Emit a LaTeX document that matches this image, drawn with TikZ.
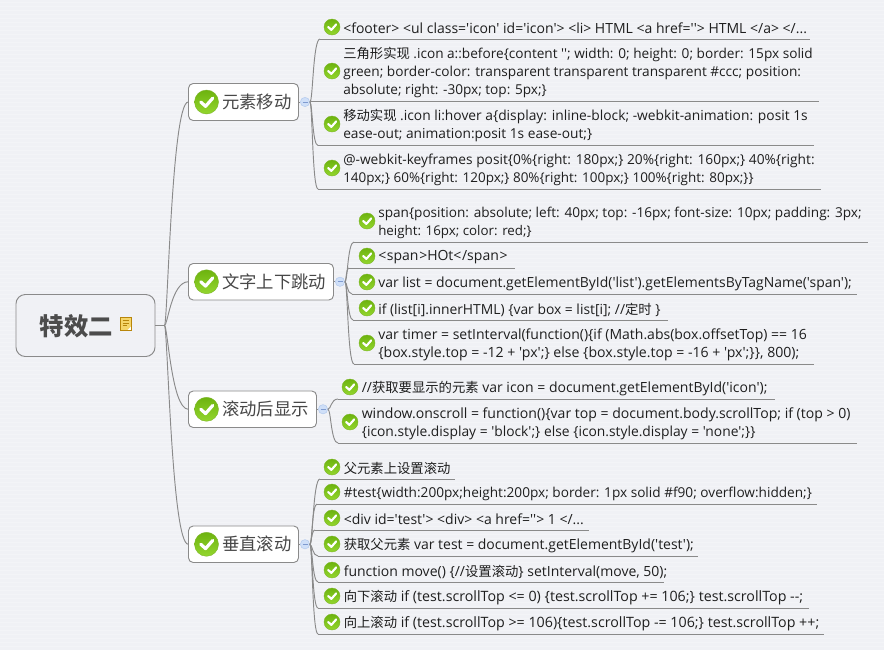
\documentclass[tikz,border=0pt]{standalone}
\usepackage{fontspec}
\usetikzlibrary{calc}
\newfontfamily\tf{Open Sans}
\newfontfamily\zhf{Noto Sans CJK SC}
\newcommand\zh[1]{{\fontsize{10pt}{13.5pt}\selectfont\zhf #1}}
\newcommand\lk{\kern0.5pt}
\newcommand\fs[1]{\fontsize{#1pt}{13.5pt}\selectfont}
\definecolor{bgc}{HTML}{F0F1F5}
\definecolor{linec}{HTML}{8A8A8A}
\definecolor{txt}{HTML}{1E1E1E}
\definecolor{hubfill}{HTML}{CFDFF8}
\definecolor{hubline}{HTML}{B5CBEE}
\definecolor{hubminus}{HTML}{7F9BD0}
\definecolor{tickdark}{HTML}{6DB30F}
\definecolor{ticklight}{HTML}{93D62E}
\definecolor{tickline}{HTML}{7DB52A}
\definecolor{notefill}{HTML}{F5D66A}
\definecolor{noteline}{HTML}{B8860B}
\tikzset{
  px/.style={x=0.75pt,y=-0.75pt},
  conn/.style={draw=linec,line width=0.7pt},
  ticon/.style={circle,inner sep=0pt,minimum size=#1*0.75pt,top color=tickdark,bottom color=ticklight,draw=tickline,line width=0.3pt,
    path picture={\draw[white,line width=#1*0.1pt,line cap=round,line join=round]
      ($(path picture bounding box.center)+(-#1*0.24,#1*0.0)$) -- ($(path picture bounding box.center)+(-#1*0.04,#1*0.18)$) -- ($(path picture bounding box.center)+(#1*0.26,-#1*0.16)$);}},
  leaftext/.style={anchor=west,inner sep=0pt,align=left,text=txt,yshift=-1.1pt,font=\fontsize{10.5pt}{13.5pt}\selectfont\tf},
  childbox/.style={draw=linec,fill=white,rounded corners=3.5pt,line width=0.7pt,inner sep=0pt},
  childtext/.style={anchor=west,inner sep=0pt,text=black!72,font=\fontsize{13pt}{15pt}\selectfont\zhf},
  rootbox/.style={draw=linec,fill=bgc,rounded corners=7pt,line width=0.7pt,inner sep=0pt},
  hub/.style={circle,inner sep=0pt,minimum size=7pt,fill=hubfill,draw=hubline,line width=0.4pt,
    path picture={\draw[hubminus,line width=0.5pt] ($(path picture bounding box.center)+(-2.5,0)$) -- ($(path picture bounding box.center)+(2.5,0)$);}},
}
% #1 name, #2 hub, #3 icon x, #4 icon y, #5 text x, #6 underline y, #7 start x, #8 end x, #9 text
\newcommand\leaf[9]{%
  \node[ticon=16] (#1i) at (#3,#4) {};
  \node[leaftext] (#1) at (#5,#4) {#9};
  \coordinate (#1s) at (#7,#6);
  \coordinate (#1e) at (#8,#6);
  \draw[conn] (#1s) -- (#1e);
  \draw[conn] (#2.east) .. controls ($(#2.east)!0.3!(#2.east-|#1s)$) and ($(#1s-|#2.east)!0.3!(#1s)$) .. (#1s);
}
% #1 name, #2 left, #3 right, #4 top, #5 bottom, #6 text, #7 hub x
\newcommand\child[7]{%
  \path[childbox] (#2,#4) rectangle (#3,#5);
  \node[inner sep=0pt,minimum width=(#3-#2)*0.75pt,minimum height=(#5-#4)*0.75pt] (#1) at ({(#2+#3)/2},{(#4+#5)/2}) {};
  \node[ticon=24] (#1i) at (#2+18,{(#4+#5)/2}) {};
  \node[childtext] (#1t) at (#2+33.5,{(#4+#5)/2}) {#6};
  \node[hub] (#1h) at (#7,{(#4+#5)/2}) {};
  \draw[conn] (#1.east) -- (#1h.west);
}
\begin{document}
\begin{tikzpicture}[px]
\useasboundingbox (0,0) rectangle (884,650);
\fill[bgc] (0,0) rectangle (884,650);
\foreach \yy in {2,6,...,650} \draw[white,opacity=0.25,line width=0.75pt] (0,\yy) -- (884,\yy);

% root
\path[rootbox] (16,294.5) rectangle (155,356.5);
\node[inner sep=0pt,minimum width=104.25pt,minimum height=46.5pt] (root) at (85.5,325.5) {};
\node[inner sep=0pt,text=black!70,font=\fontsize{18.3pt}{20pt}\selectfont\zhf\bfseries] (roott) at (76.5,326) {特效二};
\node[draw=noteline,fill=notefill,inner sep=0pt,minimum width=8pt,minimum height=10pt,line width=0.5pt,
  path picture={\draw[noteline,line width=0.4pt]
    ($(path picture bounding box.center)+(-3,-3.5)$) -- +(6,0) ($(path picture bounding box.center)+(-3,-1)$) -- +(6,0) ($(path picture bounding box.center)+(-3,1.5)$) -- +(4,0);
    \fill[white] ($(path picture bounding box.south east)+(-4,0)$) -- ($(path picture bounding box.south east)+(0,-4)$) -- (path picture bounding box.south east) -- cycle;}] (note) at (125.5,324) {};
\coordinate (rj) at (164.5,325.5);
\draw[conn] (root.east) -- (rj);

% children
\child{c1}{188.5}{298.5}{83.5}{120.5}{元素移动}{305}
\child{c2}{188.5}{333.5}{263.5}{300}{文字上下跳动}{340}
\child{c3}{188.5}{316.5}{391}{427.5}{滚动后显示}{323}
\child{c4}{188.5}{298.5}{526}{562.5}{垂直滚动}{305}
\foreach \cc in {c1,c2,c3,c4}
  \draw[conn] (rj) .. controls ($(rj)!0.13!(rj-|\cc.west)$) and ($(\cc.west-|rj)!0.3!(\cc.west)$) .. (\cc.west);

% group 1
\leaf{a1}{c1h}{332}{27}{343}{39}{320}{810}{<footer> <ul class='icon' id='icon'> <li> HTML <a href=''> HTML </a> </...}
\leaf{a2}{c1h}{332}{71}{343}{101}{311}{819}{\fs{10.22}\zh{三角形实现} .icon a::before\{content ''; width: 0; height: 0; border: 15px solid\\\fs{10.25}green; border-color: transparent transparent transparent \#ccc; position:\\\fs{10.2}absolute; right: -30px; top: 5px;\}}
\leaf{a3}{c1h}{332}{124}{343}{145.5}{318}{814}{\fs{10.35}\zh{移动实现} .icon li:hover a\{display: inline-block; -webkit-animation: posit 1s\\\fs{10.3}ease-out; animation:posit 1s ease-out;\}}
\leaf{a4}{c1h}{332}{168}{343}{189}{318}{821}{\fs{10.3}@-webkit-keyframes posit\{0\%\{right: 180px;\} 20\%\{right: 160px;\} 40\%\{right:\\\fs{10.1}140px;\} 60\%\{right: 120px;\} 80\%\{right: 100px;\} 100\%\{right: 80px;\}\}}

% group 2
\leaf{b1}{c2h}{367}{221}{378}{242}{354}{868}{\fs{10.2}span\{position: absolute; left: 40px; top: -16px; font-size: 10px; padding: 3px;\\\fs{10}height: 16px; color: red;\}}
\leaf{b2}{c2h}{367}{256}{378}{268}{349}{515}{<\lk span\lk>HOt<\lk/span\lk>}
\leaf{b3}{c2h}{367}{282}{378}{294}{352}{857}{\fs{10.45}var list = document.getElementById('list').getElementsByTagName('span');}
\leaf{b4}{c2h}{367}{308}{378}{320}{353}{668}{\fs{10.4}if (list[i].innerHTML) \{var box = list[i]; //\zh{定时} \}}
\leaf{b5}{c2h}{367}{343}{378}{364}{354}{814}{var timer = setInterval(function()\{if (Math.abs(box.offsetTop) == 16\\\fs{10.57}\{box.style.top = -12 + 'px';\} else \{box.style.top = -16 + 'px';\}\}, 800);}

% group 3
\leaf{d1}{c3h}{350}{387}{361.5}{399}{338}{775}{//\zh{获取要显示的元素} var icon = document.getElementById('icon');}
\leaf{d2}{c3h}{350}{422}{361.5}{443}{338}{857}{\fs{10.54}window.onscroll = function()\{var top = document.body.scrollTop; if (top > 0)\\\fs{10.37}\{icon.style.display = 'block';\} else \{icon.style.display = 'none';\}\}}

% group 4
\leaf{e1}{c4h}{332}{467}{343.5}{479}{320}{455}{\zh{父元素上设置滚动}}
\leaf{e2}{c4h}{332}{492}{343.5}{504}{317}{817}{\fs{10.22}\#test\{width:200px;height:200px; border: 1px solid \#f90; overflow:hidden;\}}
\leaf{e3}{c4h}{332}{518}{343.5}{530}{315}{588.5}{<div id='test'> <div> <a href=''> 1 </...}
\leaf{e4}{c4h}{332}{544}{343.5}{556}{318}{698}{\zh{获取父元素} var test = document.getElementById('test');}
\leaf{e5}{c4h}{332}{570}{343.5}{582}{318}{664}{function move() \{//\zh{设置滚动}\} setInterval(move, 50);}
\leaf{e6}{c4h}{332}{596}{343.5}{608}{318}{809}{\fs{10.68}\zh{向下滚动} if (test.scrollTop <= 0) \{test.scrollTop += 106;\} test.scrollTop --;}
\leaf{e7}{c4h}{332}{622}{343.5}{634}{318}{824}{\fs{10.68}\zh{向上滚动} if (test.scrollTop >= 106)\{test.scrollTop -= 106;\} test.scrollTop ++;}
\end{tikzpicture}
\end{document}
